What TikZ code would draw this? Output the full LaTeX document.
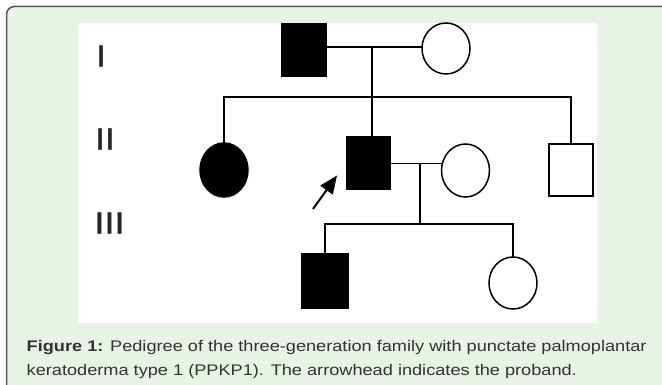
\documentclass[tikz,border=0pt]{standalone}
\usepackage{fontspec}
\usepackage{tikz}
\usetikzlibrary{shapes.geometric,arrows.meta}
\newfontfamily\capfont[FakeStretch=1.18]{Liberation Sans}
\newfontfamily\genfont[FakeStretch=1.18, FakeBold=1.2]{Liberation Sans}
\definecolor{panelgreen}{HTML}{E8F2E6}
\definecolor{panelrule}{HTML}{555555}
\definecolor{captext}{HTML}{333333}
\tikzset{
  pline/.style={line width=1.8pt, line cap=rect},
  malebox/.style={rectangle, draw=black, line width=1.8pt, inner sep=0pt, minimum width=44pt, minimum height=52pt},
  affmale/.style={malebox, fill=black},
  femaleoval/.style={ellipse, draw=black, line width=1.5pt, inner sep=0pt, minimum width=48pt, minimum height=52pt},
  afffemale/.style={femaleoval, fill=black},
  genlabel/.style={inner sep=0pt, text=black!85, font=\genfont\fontsize{30.7}{30.7}\selectfont},
  captionline/.style={anchor=base west, inner sep=0pt, text=captext, font=\capfont\fontsize{15.4}{23}\selectfont},
}
\begin{document}
\begin{tikzpicture}[x=1pt, y=-1pt]
			%%%%% START %%%%%
			\useasboundingbox (0, 0) rectangle (662, 385);
			
			\draw[fill=panelgreen, draw=panelrule, line width=1.5pt, rounded corners=8pt] (6.5, 6.5) rectangle (680, 400);
			\fill[white] (78, 23) rectangle (597, 323);
			
			\node[genlabel] (genI) at (101, 56) {I};
			\node[genlabel] (genII) at (105, 139) {II};
			\node[genlabel] (genIII) at (109.5, 223) {III};
			
			% generation I
			\node[affmale] (f1) at (304, 50) {};
			\node[femaleoval, minimum height=51pt] (m1) at (446, 48.5) {};
			\coordinate (mar1) at (372, 47);
			\coordinate (sib1) at (372, 97);
			\draw[pline] (f1.east |- mar1) -- (m1.west |- mar1);
			
			% generation II
			\node[afffemale, minimum height=54pt] (f2) at (224, 170) {};
			\node[affmale, minimum width=43pt] (p2) at (368.3, 163) {};
			\node[femaleoval, minimum height=53pt] (s2) at (465.5, 170.5) {};
			\node[malebox] (u2) at (571, 170) {};
			
			\draw[pline] (mar1) -- (mar1 |- p2.north);
			\draw[pline] (sib1 -| f2.north) -- (sib1 -| u2.north);
			\draw[pline] (sib1 -| f2.north) -- (f2.north);
			\draw[pline] (sib1 -| u2.north) -- (u2.north);
			
			\coordinate (mar2) at (420, 163.5);
			\coordinate (sib2) at (420, 224);
			\draw[pline] (p2.east |- mar2) -- (s2.west |- mar2);
			\draw[pline] (mar2) -- (sib2);
			
			% proband arrow
			\coordinate (arrtail) at (313, 209);
			\coordinate (arrtip) at (337, 175.5);
			\draw[line width=2pt, -{Triangle[length=18pt, width=15pt]}] (arrtail) -- (arrtip);
			
			% generation III
			\node[affmale, minimum width=46pt, minimum height=54pt] (c3) at (325, 281) {};
			\node[femaleoval, minimum height=52pt] (d3) at (513, 283) {};
			\draw[pline] (sib2 -| c3.north) -- (sib2 -| d3.north);
			\draw[pline] (sib2 -| c3.north) -- (c3.north);
			\draw[pline] (sib2 -| d3.north) -- (d3.north);
			
			% caption
			\node[captionline] (cap1) at (26.5, 351.7) {\textbf{Figure 1:} Pedigree of the three-generation family with punctate palmoplantar};
			\node[captionline] (cap2) at (26.5, 375) {keratoderma type 1 (PPKP1). The arrowhead indicates the proband.};
			%%%%% END %%%%%
\end{tikzpicture}
\end{document}
